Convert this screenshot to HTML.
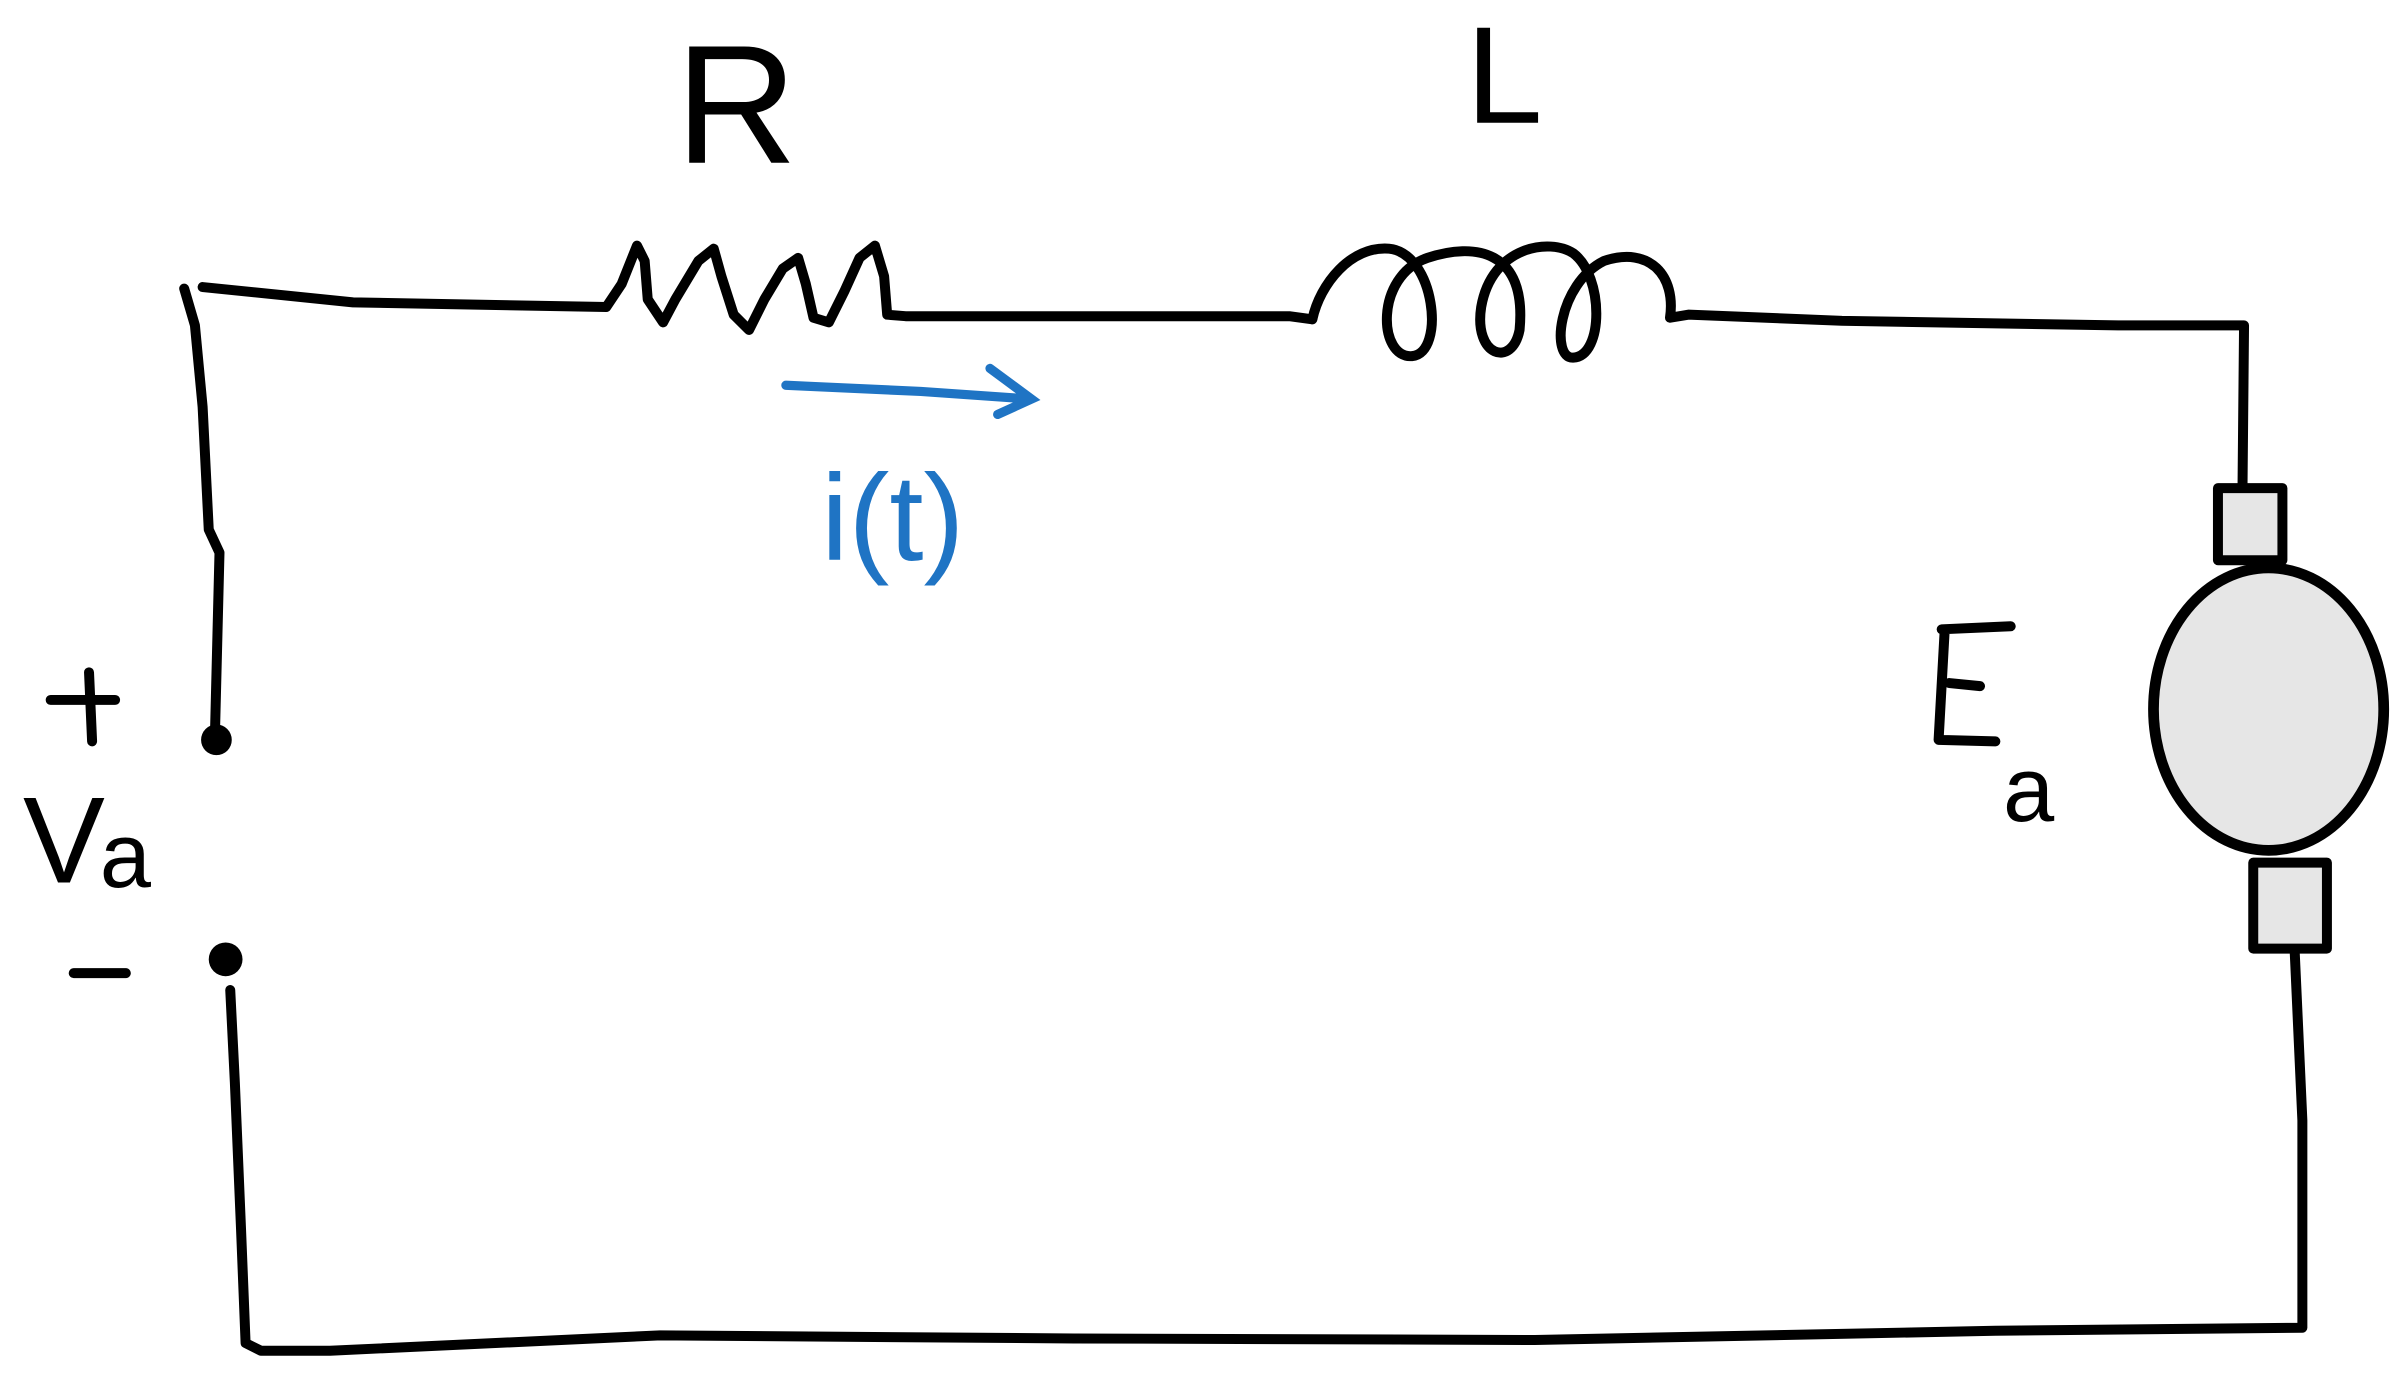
<!DOCTYPE html>
<html><head><style>html,body{margin:0;padding:0;background:#fff;width:2396px;height:1373px;overflow:hidden}</style></head>
<body>
<svg width="2396" height="1373" viewBox="0 0 1561 894.5" xmlns="http://www.w3.org/2000/svg">
<g fill="none" stroke="#000" stroke-width="6.5" stroke-linecap="round" stroke-linejoin="round">
<path d="M120,188 L127,212 L132,265 L136,345 L143,360 L140,480"/>
<path d="M132,187 L230,197 L395,200 L405,185 L415,160 L420,170 L422,195 L432,210 L440,195 L455,170 L465,162 L470,180 L478,205 L488,215 L498,195 L510,175 L520,168 L525,185 L530,207 L540,210 L550,190 L560,168 L570,160 L576,180 L578,205 L590,206 L840,206 L855,208"/>
<path d="M855,208 C860,185 880,160 905,162 C935,165 942,230 920,232 C898,234 895,180 930,168 C960,158 995,162 990,215 C985,240 960,232 965,200 C972,160 1010,155 1025,165 C1045,180 1045,232 1025,233 C1010,234 1015,185 1045,170 C1075,160 1092,180 1088,207 L1100,205 L1200,209 L1380,212 L1462,212 L1461,318"/>
<rect x="1445" y="318" width="42" height="47" fill="#e6e6e6"/>
<ellipse cx="1478" cy="462" rx="75" ry="92" fill="#e6e6e6" stroke-width="7"/>
<rect x="1468" y="562" width="48" height="56" fill="#e6e6e6"/>
<path d="M1495,620 L1500,730 L1500,865 L1300,867 L1000,873 L700,872 L430,870 L215,880 L170,880 L160,875 L157,800 L153,705 L150,645"/>
<path d="M1265,410 L1310,408 M1267,410 L1263,482 L1300,483 M1270,445 L1290,447"/>
<path d="M33,456 L75,456 M58,438 L60,483 M48,634 L82,634"/>
</g>
<circle cx="141" cy="482" r="10" fill="#000"/>
<circle cx="147" cy="625" r="11" fill="#000"/>
<g fill="none" stroke="#1f74c4" stroke-width="6" stroke-linecap="round">
<path d="M512,251 L600,255 L672,260 M645,240 L672,260 L650,270"/>
</g>
<g font-family="'Liberation Sans',sans-serif" fill="#000">
<text x="440" y="106" font-size="110">R</text>
<text x="955" y="80" font-size="90">L</text>
<text x="15" y="575" font-size="80">V</text>
<text x="65" y="578" font-size="60">a</text>
<text x="1305" y="535" font-size="60">a</text>
<text x="535" y="365" font-size="80" fill="#1f74c4">i(t)</text>
</g>
</svg>
</body></html>
